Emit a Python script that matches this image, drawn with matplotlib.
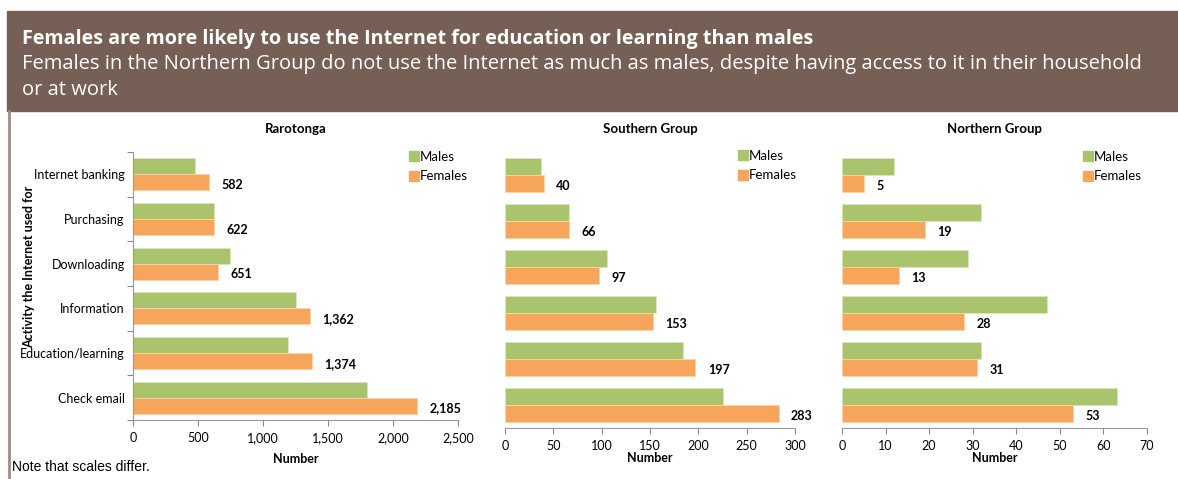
import matplotlib.pyplot as plt
import numpy as np
from matplotlib.patches import Rectangle
from matplotlib.lines import Line2D

# =========================
# DATOS
# =========================
activities = ["Internet banking", "Purchasing", "Downloading",
              "Information", "Education/learning", "Check email"]

raro_males = [476, 625, 748, 1253, 1196, 1798]
raro_females = [582, 622, 651, 1362, 1374, 2185]

south_males = [37, 66, 105, 156, 184, 225]
south_females = [40, 66, 97, 153, 197, 283]

north_males = [12, 32, 29, 47, 32, 63]
north_females = [5, 19, 13, 28, 31, 53]

panel_titles = ["Rarotonga", "Southern Group", "Northern Group"]
x_limits = [2500, 300, 70]
x_steps = [500, 50, 10]

GREEN = "#A9C46C"
ORANGE = "#F7A55A"
BROWN = "#765F55"
TEXT_FONT = ["Lato", "DejaVu Sans"]
HEAD_FONT = ["Open Sans", "DejaVu Sans"]

W, H = 1178, 479


def px_axes(fig, x0, y0, x1, y1):
    # coordenadas en pixeles (origen arriba-izquierda)
    return fig.add_axes([x0 / W, 1 - y1 / H, (x1 - x0) / W, (y1 - y0) / H])


def draw_panel(ax, title, males, females, xmax, step, show_labels, legend_px):
    n = len(activities)
    y = np.arange(n)
    h = 0.36
    ax.barh(y - h / 2, males, height=h, color=GREEN, edgecolor="#d9e6bd",
            linewidth=0.6)
    ax.barh(y + h / 2, females, height=h, color=ORANGE, edgecolor="#fbd3ac",
            linewidth=0.6)
    for yi, v in zip(y, females):
        ax.annotate(f"{v:,}", (v, yi + h / 2), xytext=(9, -2),
                    textcoords="offset points", ha="left", va="center",
                    fontsize=9, fontweight="bold", family=TEXT_FONT)

    ax.set_xlim(0, xmax)
    ax.set_ylim(n - 0.5, -0.5)
    ticks = np.arange(0, xmax + step, step)
    ax.set_xticks(ticks)
    ax.set_xticklabels([f"{v:,}" for v in ticks], family=TEXT_FONT, fontsize=9)
    ax.tick_params(axis="x", length=4, color="#888888", pad=5)

    for s in ["top", "right"]:
        ax.spines[s].set_visible(False)
    ax.spines["bottom"].set_color("#999999")

    if show_labels:
        ax.set_yticks(np.arange(-0.5, n, 1), minor=False)
        ax.set_yticklabels([])
        ax.set_yticks(y, minor=True)
        ax.set_yticklabels(activities, minor=True, family=TEXT_FONT, fontsize=9)
        ax.tick_params(axis="y", which="major", length=4, color="#888888")
        ax.tick_params(axis="y", which="minor", length=0, pad=6)
        ax.spines["left"].set_color("#999999")
        ax.set_ylabel("Activity the Internet used for", family=TEXT_FONT,
                      fontsize=9, fontweight="bold")
        ax.yaxis.set_label_coords(-0.30, 0.57)
    else:
        ax.spines["left"].set_visible(False)
        ax.set_yticks([])

    ax.set_title(title, family=TEXT_FONT, fontsize=9.5, fontweight="bold", pad=14)

    handles = [Line2D([], [], marker="s", color="none", markerfacecolor=GREEN,
                      markeredgecolor=GREEN, markersize=7),
               Line2D([], [], marker="s", color="none", markerfacecolor=ORANGE,
                      markeredgecolor=ORANGE, markersize=7)]
    lx, ly = legend_px
    ax.legend(handles, ["Males", "Females"], loc="upper left",
              bbox_to_anchor=(lx / W, 1 - ly / H), bbox_transform=fig.transFigure,
              frameon=False, borderpad=0, borderaxespad=0,
              prop={"family": TEXT_FONT, "size": 9.5}, handletextpad=0.1,
              labelspacing=0.55, handlelength=0.7)


fig = plt.figure(figsize=(W / 100, H / 100), dpi=100)

# banda de titulo
fig.patches.append(Rectangle((7 / W, 1 - 111 / H), 1 - 7 / W, 100 / H,
                             transform=fig.transFigure, color=BROWN, zorder=0))
fig.lines.append(Line2D([8.5 / W, 8.5 / W], [0, 1 - 111 / H],
                        transform=fig.transFigure, color="#A08C84", linewidth=2))
fig.text(22 / W, 1 - 39 / H,
         "Females are more likely to use the Internet for education or learning than males",
         family=HEAD_FONT, fontsize=14.2, fontweight="bold", color="white", va="center")
fig.text(22 / W, 1 - 64 / H,
         "Females in the Northern Group do not use the Internet as much as males, despite having access to it in their household",
         family=HEAD_FONT, fontsize=14.5, color="white", va="center")
fig.text(22 / W, 1 - 90 / H, "or at work",
         family=HEAD_FONT, fontsize=14.5, color="white", va="center")

ax1 = px_axes(fig, 133, 152, 458, 420)
ax2 = px_axes(fig, 505, 152, 795, 428)
ax3 = px_axes(fig, 842, 152, 1147, 428)

draw_panel(ax1, panel_titles[0], raro_males, raro_females, x_limits[0], x_steps[0],
           True, (409, 151))
draw_panel(ax2, panel_titles[1], south_males, south_females, x_limits[1], x_steps[1],
           False, (738, 150))
draw_panel(ax3, panel_titles[2], north_males, north_females, x_limits[2], x_steps[2],
           False, (1083, 151))

ax1.set_xlabel("Number", family=TEXT_FONT, fontsize=9, fontweight="bold", labelpad=6)
ax2.set_xlabel("Number", family=TEXT_FONT, fontsize=9, fontweight="bold", labelpad=0)
ax3.set_xlabel("Number", family=TEXT_FONT, fontsize=9, fontweight="bold", labelpad=0)

fig.text(12 / W, 1 - 467 / H, "Note that scales differ.", family="Liberation Sans",
         fontsize=10, va="center")

fig.savefig("out.png", dpi=100)
